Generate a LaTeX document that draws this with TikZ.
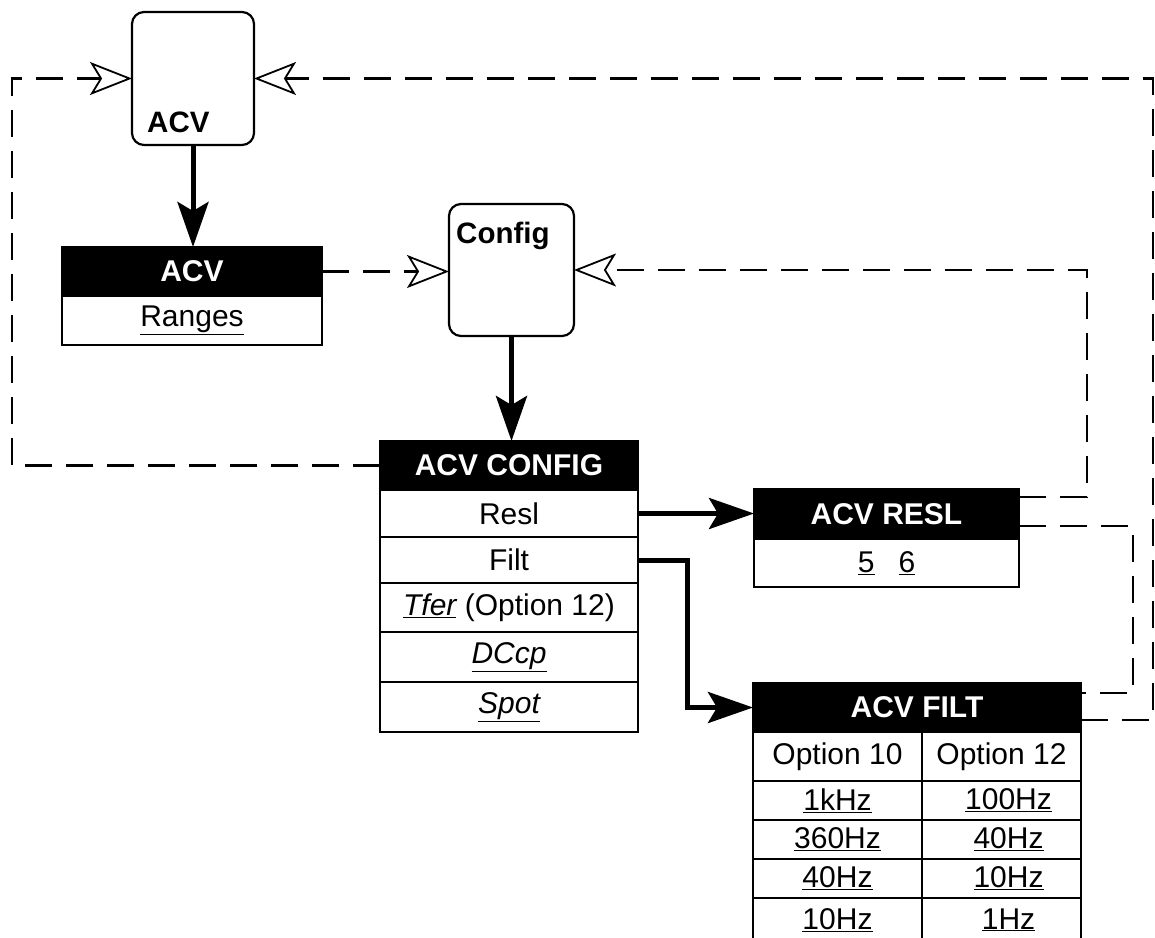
\documentclass[tikz,border=0pt]{standalone}
\usepackage{fontspec}
\setmainfont{Liberation Sans}
\usetikzlibrary{arrows.meta}
\newcommand{\ul}[1]{\underline{#1}}
\tikzset{
 box/.style={draw, line width=2pt, inner sep=0pt, outer sep=0pt, anchor=north west},
 hdr/.style={box, fill=black, text=white, font=\fontsize{30}{35}\selectfont\bfseries},
 cell/.style={box, fill=white, font=\fontsize{30}{35}\selectfont},
 rbox/.style={draw, line width=2.2pt, rounded corners=12pt, inner sep=0pt, outer sep=0pt, anchor=north west},
 lbl/.style={inner sep=0pt, anchor=base west, font=\fontsize{29.5}{34}\selectfont\bfseries},
 bigarrow/.style={line width=5pt, -{Stealth[length=45pt,width=31pt,inset=9pt]}},
 loopline/.style={line width=2.2pt, dash pattern=on 27pt off 14pt},
 openhead/.style={-{Stealth[open,length=42pt,width=33pt,inset=10pt,line width=1.8pt]}},
}
\begin{document}
\begin{tikzpicture}[x=1pt,y=-1pt]
\useasboundingbox (0,0) rectangle (1155,937);
% rounded boxes
\node[rbox, minimum width=122pt, minimum height=133pt] (acv) at (132,12) {};
\node[lbl] (acvlbl) at (147,132) {ACV};
\node[rbox, minimum width=125pt, minimum height=132pt] (cfg) at (449,204) {};
\node[lbl] (cfglbl) at (456,243) {Config};
% ACV table
\node[hdr, minimum width=260pt, minimum height=49pt] (acvh) at (62,247) {ACV};
\node[cell, minimum width=260pt, minimum height=49pt] (acvr) at (62,296) {\ul{Ranges}};
% ACV CONFIG table
\node[hdr, minimum width=258pt, minimum height=49pt] (cfgh) at (380,441) {ACV CONFIG};
\node[cell, minimum width=258pt, minimum height=47pt] (resl) at (380,490) {Resl};
\node[cell, minimum width=258pt, minimum height=46pt] (filt) at (380,537) {Filt};
\node[cell, minimum width=258pt, minimum height=49pt] (tfer) at (380,583) {\ul{\itshape Tfer} (Option 12)};
\node[cell, minimum width=258pt, minimum height=50pt] (dccp) at (380,632) {\ul{\itshape DCcp}};
\node[cell, minimum width=258pt, minimum height=50pt] (spot) at (380,682) {\ul{\itshape Spot}};
% ACV RESL table
\node[hdr, minimum width=265pt, minimum height=50pt] (reslh) at (754,489) {ACV RESL};
\node[cell, minimum width=265pt, minimum height=48pt] (reslb) at (754,539) {\ul{5}\hspace{0.8em}\ul{6}};
% ACV FILT table
\node[hdr, minimum width=328pt, minimum height=49pt] (filth) at (753,683) {ACV FILT};
\node[cell, minimum width=169pt, minimum height=49pt] (o10) at (753,732) {Option 10};
\node[cell, minimum width=159pt, minimum height=49pt] (o12) at (922,732) {Option 12};
\node[cell, minimum width=169pt, minimum height=39pt] (a1) at (753,781) {\ul{1kHz}};
\node[cell, minimum width=159pt, minimum height=39pt] (b1) at (922,781) {\hspace{14pt}\ul{100Hz}};
\node[cell, minimum width=169pt, minimum height=39pt] (a2) at (753,820) {\ul{360Hz}};
\node[cell, minimum width=159pt, minimum height=39pt] (b2) at (922,820) {\hspace{14pt}\ul{40Hz}};
\node[cell, minimum width=169pt, minimum height=39pt] (a3) at (753,859) {\ul{40Hz}};
\node[cell, minimum width=159pt, minimum height=39pt] (b3) at (922,859) {\hspace{14pt}\ul{10Hz}};
\node[cell, minimum width=169pt, minimum height=44pt] (a4) at (753,898) {\raisebox{2.5pt}{\ul{10Hz}}};
\node[cell, minimum width=159pt, minimum height=44pt] (b4) at (922,898) {\raisebox{2.5pt}{\hspace{14pt}\ul{1Hz}}};
% bend points
\coordinate (fk) at (687,0);
\coordinate (rk) at (1087,497);
\coordinate (rb) at (1133,526);
\coordinate (fb) at (1133,693);
\coordinate (ft) at (1153,720);
\coordinate (lb) at (12,465);
% solid arrows
\draw[bigarrow] (acv.south) -- (acv.south |- acvh.north);
\draw[bigarrow] (cfg.south) -- (cfg.south |- cfgh.north);
\draw[bigarrow] (resl.east) -- (reslh.west |- resl.east);
\draw[bigarrow] (filt.east) -- (filt.east -| fk) -- (fk |- filth.west) -- (filth.west);
% dashed loops
\draw[loopline, openhead] (acvh.east) -- (cfg.west |- acvh.east);
\draw[loopline, openhead] (reslh.east |- rk) -- (rk) -- (rk |- cfg.east) -- (cfg.east);
\draw[loopline] (reslh.east |- rb) -- (rb) -- (fb) -- (filth.east |- fb);
\draw[loopline, openhead] (filth.east |- ft) -- (ft) -- (ft |- acv.east) -- (acv.east);
\draw[loopline, openhead] (cfgh.west) -- (cfgh.west -| lb) -- (lb |- acv.west) -- (acv.west);
\end{tikzpicture}
\end{document}
